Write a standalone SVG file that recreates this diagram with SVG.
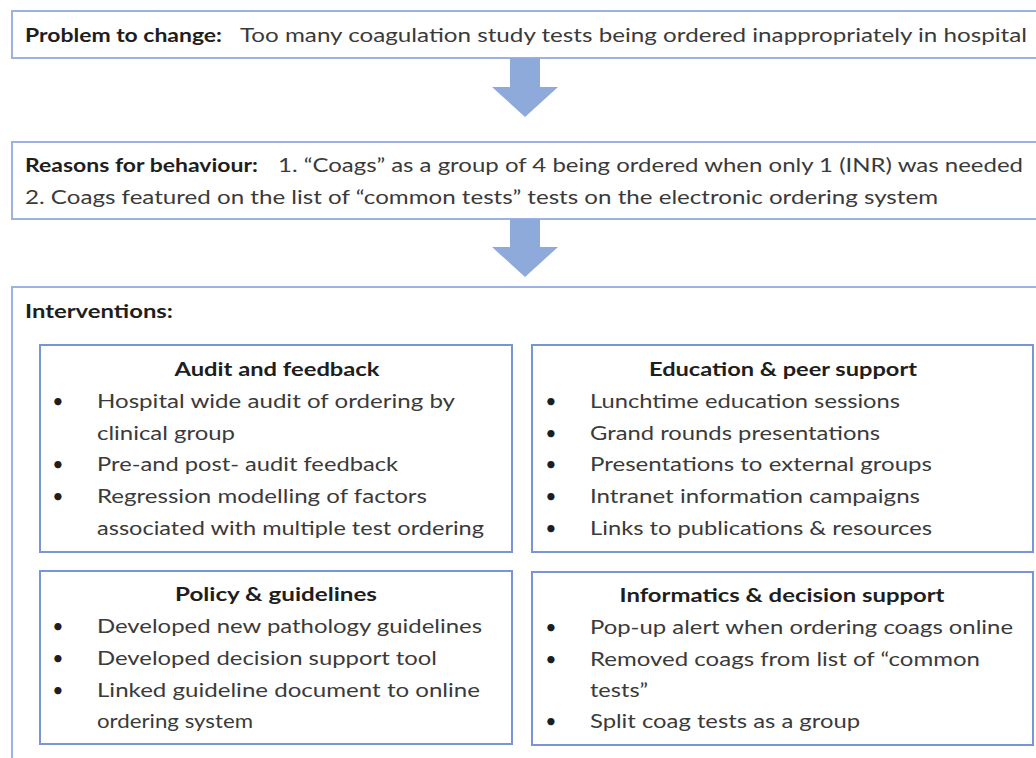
<svg xmlns="http://www.w3.org/2000/svg" width="1036" height="758" viewBox="0 0 1036 758">
  <style>
    .outer { fill: #ffffff; stroke: #9bb3e2; stroke-width: 2; }
    .inner { fill: #ffffff; stroke: #7896d6; stroke-width: 2; }
    .flow { fill: #8eaadb; }
    text { font-family: Lato, "Open Sans", "Liberation Sans", sans-serif; font-size: 19.5px; fill: #3a3a3a; }
    .b { font-weight: bold; fill: #1e1e1e; }
    .ttl { font-weight: bold; fill: #1e1e1e; text-anchor: middle; }
    .dot { text-anchor: middle; fill: #1e1e1e; }
  </style>

  <rect width="1036" height="758" fill="#ffffff"/>

  <!-- Problem statement -->
  <g id="problem">
    <rect class="outer" x="12" y="11" width="1040" height="47"/>
    <text class="b" x="25" y="42" textLength="197" lengthAdjust="spacingAndGlyphs">Problem to change:</text>
    <text x="240" y="42" textLength="787" lengthAdjust="spacingAndGlyphs">Too many coagulation study tests being ordered inappropriately in hospital</text>
  </g>

  <!-- Reasons for behaviour -->
  <g id="reasons">
    <rect class="outer" x="12" y="142" width="1040" height="77"/>
    <text class="b" x="25" y="172" textLength="233" lengthAdjust="spacingAndGlyphs">Reasons for behaviour:</text>
    <text x="278" y="172" textLength="745" lengthAdjust="spacingAndGlyphs">1. “Coags” as a group of 4 being ordered when only 1 (INR) was needed</text>
    <text x="25" y="204" textLength="913" lengthAdjust="spacingAndGlyphs">2. Coags featured on the list of “common tests” tests on the electronic ordering system</text>
  </g>

  <!-- Interventions container -->
  <g id="interventions">
    <rect class="outer" x="12" y="287" width="1040" height="490" stroke="#84a2dc"/>
    <text class="b" x="25" y="318" textLength="148" lengthAdjust="spacingAndGlyphs">Interventions:</text>
  </g>

  <g id="audit-feedback">
    <rect class="inner" x="40" y="345" width="472" height="207"/>
    <text class="ttl" x="277" y="376" textLength="205" lengthAdjust="spacingAndGlyphs">Audit and feedback</text>
    <text class="dot" x="58" y="408">•</text>
    <text x="97" y="408" textLength="358" lengthAdjust="spacingAndGlyphs">Hospital wide audit of ordering by</text>
    <text x="97" y="440" textLength="138" lengthAdjust="spacingAndGlyphs">clinical group</text>
    <text class="dot" x="58" y="471">•</text>
    <text x="97" y="471" textLength="301" lengthAdjust="spacingAndGlyphs">Pre-and post- audit feedback</text>
    <text class="dot" x="58" y="503">•</text>
    <text x="97" y="503" textLength="330" lengthAdjust="spacingAndGlyphs">Regression modelling of factors</text>
    <text x="97" y="535" textLength="387" lengthAdjust="spacingAndGlyphs">associated with multiple test ordering</text>
  </g>

  <g id="education-peer-support">
    <rect class="inner" x="532" y="345" width="501" height="207"/>
    <text class="ttl" x="783" y="376" textLength="268" lengthAdjust="spacingAndGlyphs">Education &amp; peer support</text>
    <text class="dot" x="551" y="408">•</text>
    <text x="590" y="408" textLength="310" lengthAdjust="spacingAndGlyphs">Lunchtime education sessions</text>
    <text class="dot" x="551" y="440">•</text>
    <text x="590" y="440" textLength="290" lengthAdjust="spacingAndGlyphs">Grand rounds presentations</text>
    <text class="dot" x="551" y="471">•</text>
    <text x="590" y="471" textLength="342" lengthAdjust="spacingAndGlyphs">Presentations to external groups</text>
    <text class="dot" x="551" y="503">•</text>
    <text x="590" y="503" textLength="330" lengthAdjust="spacingAndGlyphs">Intranet information campaigns</text>
    <text class="dot" x="551" y="535">•</text>
    <text x="590" y="535" textLength="342" lengthAdjust="spacingAndGlyphs">Links to publications &amp; resources</text>
  </g>

  <g id="policy-guidelines">
    <rect class="inner" x="40" y="571" width="472" height="173"/>
    <text class="ttl" x="276" y="601" textLength="202" lengthAdjust="spacingAndGlyphs">Policy &amp; guidelines</text>
    <text class="dot" x="58" y="633">•</text>
    <text x="97" y="633" textLength="385" lengthAdjust="spacingAndGlyphs">Developed new pathology guidelines</text>
    <text class="dot" x="58" y="665">•</text>
    <text x="97" y="665" textLength="340" lengthAdjust="spacingAndGlyphs">Developed decision support tool</text>
    <text class="dot" x="58" y="697">•</text>
    <text x="97" y="697" textLength="383" lengthAdjust="spacingAndGlyphs">Linked guideline document to online</text>
    <text x="97" y="728" textLength="156" lengthAdjust="spacingAndGlyphs">ordering system</text>
  </g>

  <g id="informatics-decision-support">
    <rect class="inner" x="532" y="572" width="501" height="173"/>
    <text class="ttl" x="782" y="602" textLength="325" lengthAdjust="spacingAndGlyphs">Informatics &amp; decision support</text>
    <text class="dot" x="551" y="634">•</text>
    <text x="590" y="634" textLength="423" lengthAdjust="spacingAndGlyphs">Pop-up alert when ordering coags online</text>
    <text class="dot" x="551" y="666">•</text>
    <text x="590" y="666" textLength="390" lengthAdjust="spacingAndGlyphs">Removed coags from list of “common</text>
    <text x="590" y="697" textLength="58" lengthAdjust="spacingAndGlyphs">tests”</text>
    <text class="dot" x="551" y="728">•</text>
    <text x="590" y="728" textLength="270" lengthAdjust="spacingAndGlyphs">Split coag tests as a group</text>
  </g>

  <!-- Block arrows between stages -->
  <g id="connectors">
    <polygon class="flow" points="510,58 540,58 540,87 558,87 525,117 492,87 510,87"/>
    <polygon class="flow" points="510,219 540,219 540,247 558,247 525,277 492,247 510,247"/>
  </g>
</svg>
